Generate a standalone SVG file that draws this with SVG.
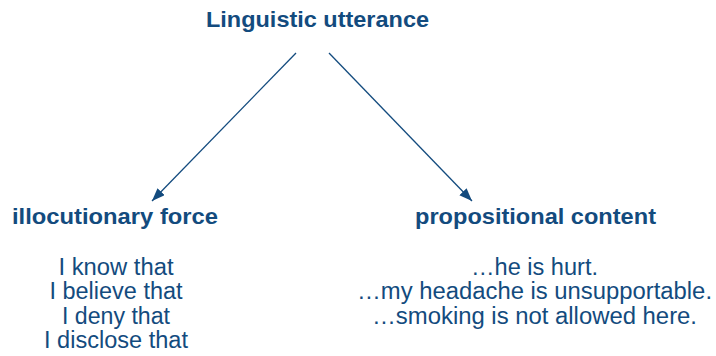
<svg xmlns="http://www.w3.org/2000/svg" width="716" height="356" viewBox="0 0 716 356">
  <style>
    text { font-family: "Liberation Sans", Arial, Helvetica, sans-serif; fill: #134b7e; text-anchor: middle; }
    .head { font-size: 22px; font-weight: bold; }
    .item { font-size: 23px; }
    .edge { stroke: #134b7e; stroke-width: 1.3; fill: none; }
  </style>
  <defs>
    <marker id="arrow" markerUnits="userSpaceOnUse" markerWidth="14" markerHeight="12" refX="13" refY="5" orient="auto">
      <path d="M0,0 L13,5 L0,10 Z" fill="#134b7e"/>
    </marker>
  </defs>
  <rect width="716" height="356" fill="#ffffff"/>

  <g id="connectors">
    <line class="edge" x1="296" y1="53" x2="152" y2="201" marker-end="url(#arrow)"/>
    <line class="edge" x1="329" y1="53" x2="472" y2="201" marker-end="url(#arrow)"/>
  </g>

  <g id="utterance">
    <text class="head" x="317.5" y="27" textLength="223" lengthAdjust="spacingAndGlyphs">Linguistic utterance</text>
  </g>

  <g id="illocutionary-force">
    <text class="head" x="115" y="224" textLength="206" lengthAdjust="spacingAndGlyphs">illocutionary force</text>
    <text class="item" x="116" y="275" textLength="115" lengthAdjust="spacingAndGlyphs">I know that</text>
    <text class="item" x="116" y="299.3" textLength="133" lengthAdjust="spacingAndGlyphs">I believe that</text>
    <text class="item" x="116" y="323.6" textLength="108" lengthAdjust="spacingAndGlyphs">I deny that</text>
    <text class="item" x="116" y="348" textLength="144" lengthAdjust="spacingAndGlyphs">I disclose that</text>
  </g>

  <g id="propositional-content">
    <text class="head" x="535.5" y="224" textLength="241" lengthAdjust="spacingAndGlyphs">propositional content</text>
    <text class="item" x="534.5" y="275" textLength="127" lengthAdjust="spacingAndGlyphs">…he is hurt.</text>
    <text class="item" x="534.5" y="299.3" textLength="355" lengthAdjust="spacingAndGlyphs">…my headache is unsupportable.</text>
    <text class="item" x="534.5" y="323.6" textLength="325" lengthAdjust="spacingAndGlyphs">…smoking is not allowed here.</text>
  </g>
</svg>
